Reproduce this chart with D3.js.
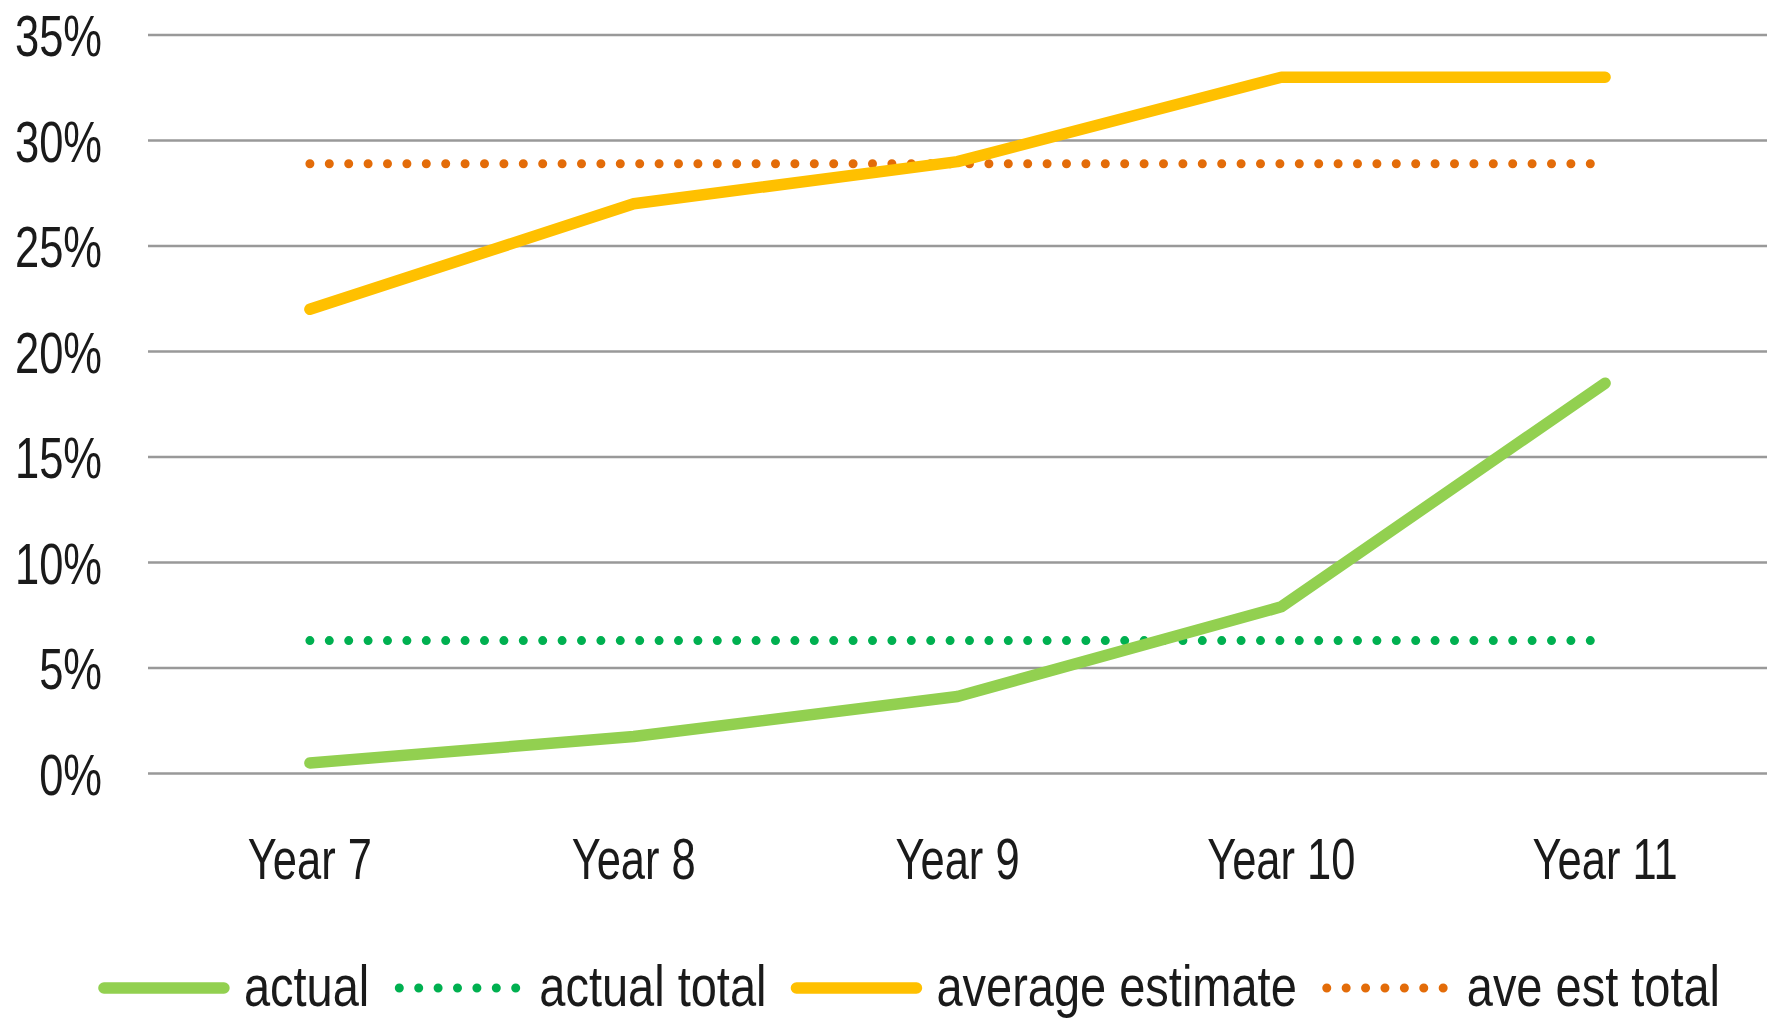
<!DOCTYPE html>
<html>
<head>
<meta charset="utf-8">
<script src="https://cdn.jsdelivr.net/npm/d3@7"></script>
<style>
body { margin: 0; background: #fff; }
text { font-family: "Liberation Sans", Arial, sans-serif; fill: #1a1a1a; }
</style>
</head>
<body>
<div id="chart"></div>
<script>
var width = 1777
var height = 1020

var years = ["Year 7", "Year 8", "Year 9", "Year 10", "Year 11"]
var actual = [0.5, 1.75, 3.65, 7.9, 18.5]
var averageEstimate = [22, 27, 29, 33, 33]
var actualTotal = 6.3
var aveEstTotal = 28.9
var yTicks = [0, 5, 10, 15, 20, 25, 30, 35]

var series = [
	{name: "actual", values: actual, color: "#92d050", dotted: false},
	{name: "actual total", values: years.map(function(){return actualTotal}), color: "#00b050", dotted: true},
	{name: "average estimate", values: averageEstimate, color: "#ffc000", dotted: false},
	{name: "ave est total", values: years.map(function(){return aveEstTotal}), color: "#e36c09", dotted: true}
]

var fontSize = 58
var squeeze = 0.75 // narrow the font to look like the original condensed face
var legendSqueeze = 0.81

var svg = d3.select("#chart").append("svg")
	.attr("width", width)
	.attr("height", height)

var x = d3.scaleBand()
	.domain(years)
	.range([148, 1767])

var y = d3.scaleLinear()
	.domain([0, 35])
	.range([773.5, 35])

// gridlines
svg.append("g")
	.selectAll("line")
	.data(yTicks).enter()
	.append("line")
	  .attr("x1", x.range()[0])
	  .attr("x2", x.range()[1])
	  .attr("y1", function(d){return y(d)})
	  .attr("y2", function(d){return y(d)})
	  .attr("stroke", "#999")
	  .attr("stroke-width", 2.5)

// y axis labels
var yAxis = svg.append("g")
	.attr("transform", "translate(102,0)")
	.call(d3.axisLeft(y).tickValues(yTicks).tickSize(0).tickPadding(0).tickFormat(function(d){return d + "%"}))
yAxis.select(".domain").remove()
yAxis.selectAll("text")
	.attr("font-size", fontSize)
	.attr("font-family", null)
	.attr("x", 0)
	.attr("dy", "0.36em")
	.attr("transform", "scale(" + squeeze + ",1)")

// x axis labels
var xAxis = svg.append("g")
	.attr("transform", "translate(0,879)")
	.call(d3.axisBottom(x).tickSize(0).tickPadding(0))
xAxis.select(".domain").remove()
xAxis.selectAll("text")
	.attr("font-size", fontSize)
	.attr("font-family", null)
	.attr("y", 0)
	.attr("dy", 0)
	.attr("transform", "scale(" + squeeze + ",1)")

var line = d3.line()
	.x(function(d, i){return x(years[i]) + x.bandwidth() / 2})
	.y(function(d){return y(d)})

function styleLine(sel){
	sel.attr("fill", "none")
	  .attr("stroke", function(d){return d.color})
	  .attr("stroke-linecap", "round")
	  .attr("stroke-linejoin", "round")
	  .attr("stroke-width", function(d){return d.dotted ? 9 : 11.5})
	  .attr("stroke-dasharray", function(d){return d.dotted ? "0,19.4" : null})
}

// dotted first, then the solid lines on top
var drawOrder = [series[1], series[3], series[0], series[2]]
svg.append("g")
	.selectAll("path")
	.data(drawOrder).enter()
	.append("path")
	  .attr("d", function(d){return line(d.values)})
	  .call(styleLine)

// legend
var legend = svg.append("g").attr("transform", "translate(0,988)")
var sampleLen = 120
var gapText = 20
var gapItem = 30
var items = legend.selectAll("g.item")
	.data(series).enter()
	.append("g")
	  .classed("item", true)
items.append("path")
	.attr("d", "M0,0H" + sampleLen)
	.call(styleLine)
items.append("g")
	.attr("transform", "translate(" + (sampleLen + gapText) + ",18) scale(" + legendSqueeze + ",1)")
  .append("text")
	.attr("font-size", fontSize)
	.text(function(d){return d.name})
var offs = []
var cur = 0
items.each(function(){
	var w = d3.select(this).select("text").node().getComputedTextLength() * legendSqueeze
	offs.push(cur)
	cur += sampleLen + gapText + w + gapItem
})
var total = cur - gapItem
var start = 912 - total / 2
items.attr("transform", function(d, i){return "translate(" + (start + offs[i]) + ",0)"})
</script>
</body>
</html>
